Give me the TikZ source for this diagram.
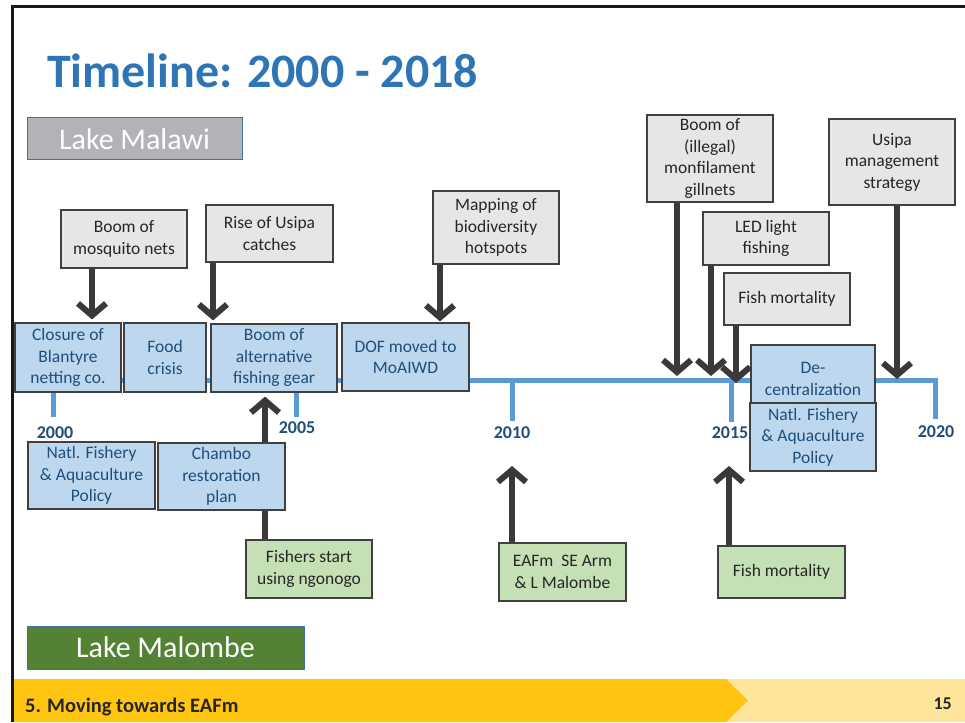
\documentclass[tikz,border=0pt]{standalone}
\usepackage{fontspec}
\setmainfont{Carlito}
\usetikzlibrary{arrows.meta,backgrounds}
\definecolor{bluefill}{HTML}{BDD7EE}
\definecolor{bluetext}{HTML}{1F4E79}
\definecolor{grayfill}{HTML}{E7E6E6}
\definecolor{greenfill}{HTML}{C5E0B4}
\definecolor{darktext}{HTML}{262626}
\definecolor{boxline}{HTML}{404040}
\definecolor{arrowcol}{HTML}{3A3838}
\definecolor{tlblue}{HTML}{5B9BD5}
\definecolor{titleblue}{HTML}{2E75B6}
\definecolor{malawifill}{HTML}{B3B3B7}
\definecolor{malombefill}{HTML}{548235}
\definecolor{labelline}{HTML}{41719C}
\definecolor{footyellow}{HTML}{FFC511}
\definecolor{footlight}{HTML}{FFE599}
\tikzset{
  box/.style={rectangle, draw=boxline, line width=1.2pt, inner sep=0pt, align=center,
    font=\fontsize{17.5}{21.5}\selectfont},
  bluebox/.style={box, fill=bluefill, text=bluetext},
  graybox/.style={box, fill=grayfill, text=darktext},
  greenbox/.style={box, fill=greenfill, text=darktext},
  arr/.style={draw=arrowcol, line width=6pt, -{Straight Barb[length=12pt,width=28pt]}},
  tline/.style={draw=tlblue, line width=5pt},
  year/.style={inner sep=0pt, text=bluetext, font=\bfseries\fontsize{18}{20}\selectfont},
  lakebox/.style={rectangle, draw=labelline, line width=1pt, inner sep=0pt, text=white,
    font=\fontsize{30}{34}\selectfont}
}
\begin{document}
\begin{tikzpicture}[x=1pt,y=-1pt]
\useasboundingbox (0,0) rectangle (965,722);
% footer
\fill[footlight] (14,679) rectangle (965,722);
\fill[footyellow] (14,679) -- (726,679) -- (748,700.5) -- (726,722) -- (14,722) -- cycle;
\node[anchor=base west, inner sep=0pt, text=darktext, font=\bfseries\fontsize{20.5}{23}\selectfont] (foot) at (25,712) {5. Moving towards EAFm};
\node[anchor=base east, inner sep=0pt, text=darktext, font=\bfseries\fontsize{18}{20}\selectfont] (pagenum) at (952,709) {15};
% frame
\draw[line width=3pt, black!90] (12,722) -- (12,7) -- (965,7);
% title
\node[anchor=base west, inner sep=0pt, text=titleblue, font=\bfseries\fontsize{48}{56}\selectfont] (title) at (47,88) {Timeline: 2000 - 2018};
% lake labels
\node[lakebox, fill=malawifill, minimum width=215, minimum height=42] (malawi) at (134.5,139) {Lake Malawi};
\node[lakebox, fill=malombefill, minimum width=277, minimum height=43] (malombe) at (165.5,647.5) {Lake Malombe};
% year labels
\node[year] (y2000) at (55,433) {2000};
\node[year] (y2005) at (297,428) {2005};
\node[year] (y2010) at (512,433) {2010};
\node[year] (y2015) at (730,433) {2015};
\node[year] (y2020) at (936,432) {2020};
% blue boxes
\node[bluebox, minimum width=106, minimum height=69] (closure) at (68,357.5) {Closure of\\Blantyre\\netting co.};
\node[bluebox, minimum width=82, minimum height=69] (food) at (165,357.5) {Food\\crisis};
\node[bluebox, minimum width=126, minimum height=68] (altgear) at (274,358) {Boom of\\alternative\\fishing gear};
\node[bluebox, minimum width=127, minimum height=68] (dof) at (405.5,357) {DOF moved to\\MoAIWD};
\node[bluebox, minimum width=127, minimum height=67] (natlA) at (91.5,475.5) {Natl. Fishery\\\& Aquaculture\\Policy};
\node[bluebox, minimum width=124, minimum height=68] (decent) at (813,379) {De-\\centralization};
\node[bluebox, minimum width=126, minimum height=68] (natlB) at (813,437) {Natl. Fishery\\\& Aquaculture\\Policy};
% gray boxes
\node[graybox, minimum width=126, minimum height=58] (mosq) at (124,239) {Boom of\\mosquito nets};
\node[graybox, minimum width=127, minimum height=57] (rise) at (269.5,233.5) {Rise of Usipa\\catches};
\node[graybox, minimum width=126, minimum height=73] (mapping) at (496,227.5) {Mapping of\\biodiversity\\hotspots};
\node[graybox, minimum width=126, minimum height=87] (illegal) at (710,158.5) {Boom of\\(illegal)\\monfilament\\gillnets};
\node[graybox, minimum width=126, minimum height=86] (usipa) at (892,162) {Usipa\\management\\strategy};
\node[graybox, minimum width=126, minimum height=53] (led) at (766,238.5) {LED light\\fishing};
\node[graybox, minimum width=126, minimum height=52] (fishmA) at (787,299) {Fish mortality};
% green boxes
\node[greenbox, minimum width=126, minimum height=58] (fishers) at (309,569) {Fishers start\\using ngonogo};
\node[greenbox, minimum width=127, minimum height=58] (eafm) at (562.5,572) {EAFm\ \ SE Arm\\\& L Malombe};
\node[greenbox, minimum width=127, minimum height=52] (fishmB) at (781.5,572) {Fish mortality};
% column coordinates and free ends
\coordinate (c92) at (92,0);
\coordinate (c213) at (213,0);
\coordinate (c440) at (440,0);
\coordinate (c265) at (265,0);
\coordinate (c677) at (677,0);
\coordinate (c711) at (711,0);
\coordinate (c736) at (736,0);
\coordinate (c897) at (897,0);
\coordinate (c512) at (512,0);
\coordinate (c729) at (729,0);
\coordinate (endIllegal) at (677,376);
\coordinate (endLed) at (711,376);
\coordinate (endFishm) at (736,383);
\coordinate (endUsipa) at (897,379);
\coordinate (endEafm) at (512,466);
\coordinate (endFishmB) at (729,466);
\begin{scope}[on background layer]
  \fill[white] (0,0) rectangle (965,722);
  \draw[tline] (15,380) -- (935,380) -- (935,419);
  \draw[tline] (53,380) -- (53,417);
  \draw[tline] (296,380) -- (296,417);
  \draw[tline] (512,380) -- (512,421);
  \draw[tline] (731,380) -- (731,422);
  \draw[arr, shorten >=4pt] (fishers.north -| c265) -- (altgear.south -| c265);
\end{scope}
% Chambo on top of the arrow
\node[bluebox, minimum width=127, minimum height=67] (chambo) at (221.5,476.5) {Chambo\\restoration\\plan};
% arrows
\draw[arr, shorten >=3pt] (mosq.south -| c92) -- (closure.north -| c92);
\draw[arr, shorten >=3pt] (rise.south -| c213) -- (altgear.north -| c213);
\draw[arr, shorten >=1pt] (mapping.south -| c440) -- (dof.north -| c440);
\draw[arr] (illegal.south -| c677) -- (endIllegal);
\draw[arr] (led.south -| c711) -- (endLed);
\draw[arr] (fishmA.south -| c736) -- (endFishm);
\draw[arr] (usipa.south -| c897) -- (endUsipa);
\draw[arr] (eafm.north -| c512) -- (endEafm);
\draw[arr] (fishmB.north -| c729) -- (endFishmB);
\end{tikzpicture}
\end{document}
